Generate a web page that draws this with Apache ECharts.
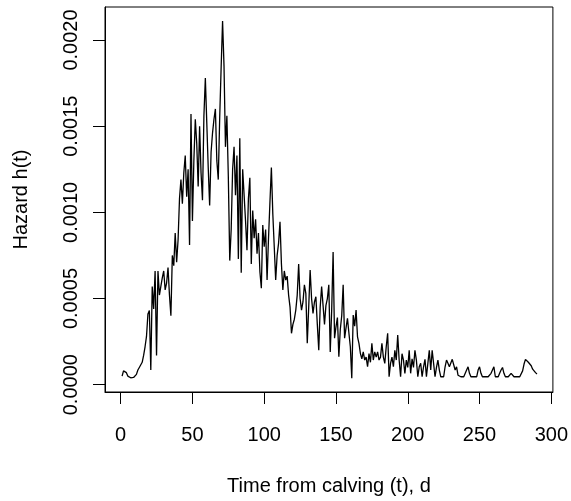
<!DOCTYPE html>
<html>
<head>
<meta charset="utf-8">
<script src="https://cdn.jsdelivr.net/npm/echarts@6/dist/echarts.min.js"></script>
<style>html,body{margin:0;padding:0;background:#fff}#c{width:571px;height:501px}</style>
</head>
<body>
<div id="c"></div>
<script>
// Hazard values in units of 1e-4, one per day starting at day 1
var hazardE4 = [
  0.5, 0.8, 0.9, 0.7, 0.5, 0.42, 0.4, 0.4, 0.42, 0.45,
  0.6, 0.85, 1.0, 0.9, 1.3, 1.7, 2.2, 2.8, 4.1, 4.3,
  0.85, 5.7, 4.4, 6.6, 1.7, 6.6, 5.2, 5.7, 6.2, 6.6,
  5.5, 5.9, 6.8, 5.2, 4.0, 7.5, 6.9, 8.8, 7.1, 8.4,
  10.8, 11.9, 10.5, 12.3, 13.3, 10.9, 12.5, 8.1, 15.7, 9.5,
  13.0, 15.4, 14.0, 11.5, 15.0, 12.3, 10.7, 15.6, 17.8, 15.2,
  12.6, 10.4, 13.5, 14.6, 15.4, 16.0, 13.0, 11.9, 15.5, 18.4,
  21.1, 18.5, 13.8, 15.6, 12.1, 7.2, 9.0, 12.5, 13.8, 11.0,
  13.3, 7.3, 14.3, 6.5, 12.5, 11.0, 9.5, 7.8, 10.8, 12.0,
  7.0, 10.1, 8.5, 9.6, 7.6, 8.8, 6.55, 5.6, 9.26, 8.0,
  9.0, 6.07, 8.5, 10.6, 12.6, 9.9, 8.0, 6.07, 7.5, 8.2,
  9.45, 7.0, 5.5, 6.6, 6.07, 6.3, 5.2, 4.5, 2.98, 3.5,
  3.8, 4.33, 5.2, 7.0, 5.0, 4.33, 4.8, 5.8, 5.3, 2.4,
  4.5, 6.65, 5.0, 4.14, 4.8, 5.1, 3.5, 2.0, 4.5, 5.7,
  4.6, 3.5, 4.6, 5.0, 5.8, 1.9, 4.3, 7.7, 2.7, 3.36,
  3.9, 1.62, 3.2, 4.0, 5.8, 2.7, 3.3, 3.85, 3.0, 2.2,
  0.37, 4.04, 3.4, 4.33, 2.78, 2.4, 1.82, 1.5, 1.9, 1.43,
  1.6, 1.04, 1.8, 1.3, 2.4, 1.43, 1.9, 1.6, 1.9, 1.43,
  1.6, 2.4, 1.6, 1.24, 2.2, 2.98, 0.46, 1.24, 1.6, 1.04,
  2.0, 1.43, 2.88, 1.43, 0.46, 1.8, 1.43, 0.66, 1.43, 1.0,
  2.0, 0.66, 1.5, 1.0, 2.0, 1.43, 0.46, 1.04, 1.24, 0.46,
  1.04, 1.47, 0.46, 1.24, 2.0, 0.85, 2.0, 1.24, 0.46, 1.0,
  1.43, 0.85, 0.46, 0.46, 0.46, 1.04, 1.43, 1.24, 1.04, 1.04,
  1.47, 1.43, 0.85, 1.04, 0.55, 0.46, 0.46, 0.46, 0.46, 0.46,
  0.85, 1.04, 0.66, 0.46, 0.46, 0.46, 0.46, 0.46, 0.85, 1.04,
  0.66, 0.46, 0.46, 0.46, 0.46, 0.46, 0.46, 0.66, 0.85, 1.04,
  0.46, 0.46, 0.46, 0.66, 0.85, 1.0, 0.66, 0.46, 0.46, 0.46,
  0.46, 0.66, 0.66, 0.46, 0.46, 0.46, 0.46, 0.46, 0.46, 0.8,
  1.2, 1.47, 1.4, 1.3, 1.2, 1.1, 0.9, 0.8, 0.7, 0.62
];
var firstDay = 1;
var xTicks = [0, 50, 100, 150, 200, 250, 300];
var xTickLabels = ["0", "50", "100", "150", "200", "250", "300"];
var yTicks = [0, 0.0005, 0.0010, 0.0015, 0.0020];
var yTickLabels = ["0.0000", "0.0005", "0.0010", "0.0015", "0.0020"];
var xTitle = "Time from calving (t), d";
var yTitle = "Hazard h(t)";

var points = hazardE4.map(function (v, i) { return [firstDay + i, v * 1e-4]; });
var font = "'Liberation Sans', Arial, sans-serif";

var chart = echarts.init(document.getElementById('c'), null, { renderer: 'canvas' });
chart.setOption({
  animation: false,
  backgroundColor: '#fff',
  grid: { left: 105, top: 7, width: 448, height: 385, show: true, borderColor: '#000', borderWidth: 1, backgroundColor: 'transparent' },
  xAxis: {
    type: 'value', min: -10.9, max: 301.1,
    splitLine: { show: false },
    axisLine: { show: true, onZero: false, lineStyle: { color: '#000', width: 1 } },
    axisTick: { show: true, inside: false, length: 12, lineStyle: { color: '#000', width: 1 }, customValues: xTicks },
    axisLabel: { show: true, margin: 33, fontSize: 20, fontFamily: font, color: '#000', customValues: xTicks,
      formatter: function (v) { var k = xTicks.indexOf(v); return k >= 0 ? xTickLabels[k] : ''; } },
    name: xTitle, nameLocation: 'middle', nameGap: 84,
    nameTextStyle: { fontSize: 20, fontFamily: font, color: '#000' }
  },
  yAxis: {
    type: 'value', min: -0.0000424, max: 0.0021915,
    splitLine: { show: false },
    axisLine: { show: true, onZero: false, lineStyle: { color: '#000', width: 1 } },
    axisTick: { show: true, inside: false, length: 12, lineStyle: { color: '#000', width: 1 }, customValues: yTicks },
    axisLabel: { show: true, rotate: 90, margin: 24, fontSize: 20, fontFamily: font, color: '#000', customValues: yTicks,
      formatter: function (v) { for (var k = 0; k < yTicks.length; k++) { if (Math.abs(yTicks[k] - v) < 1e-9) return yTickLabels[k]; } return ''; } },
    name: yTitle, nameLocation: 'middle', nameGap: 74, nameRotate: 90,
    nameTextStyle: { fontSize: 20, fontFamily: font, color: '#000' }
  },
  series: [{
    type: 'line', data: points, showSymbol: false, symbol: 'none',
    lineStyle: { color: '#000', width: 1.3 }, silent: true
  }]
});
</script>
</body>
</html>
